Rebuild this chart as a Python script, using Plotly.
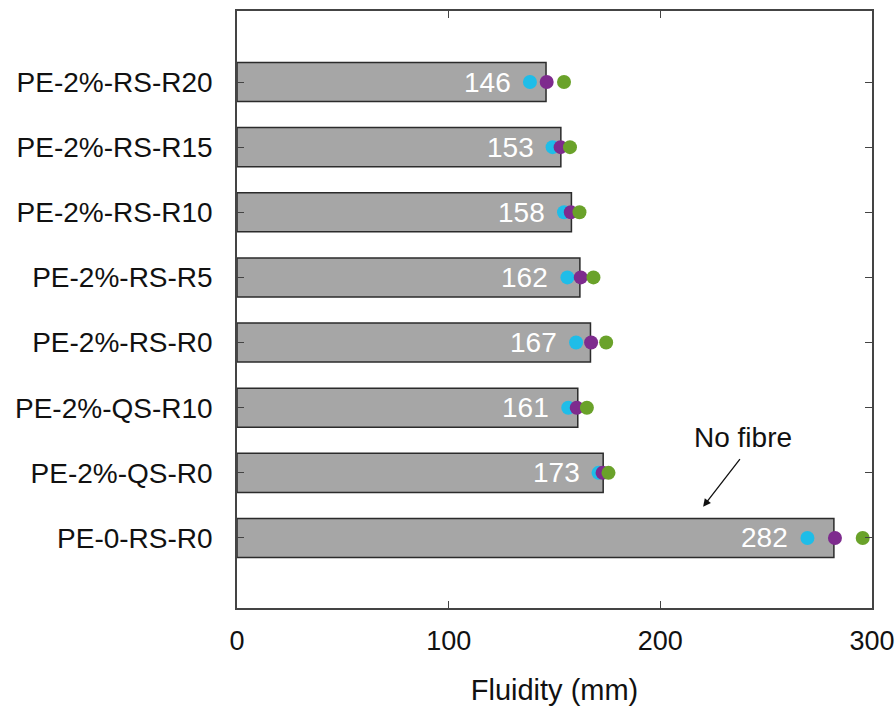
import plotly.graph_objects as go

# Mix designs, top to bottom
mixes = ["PE-2%-RS-R20", "PE-2%-RS-R15", "PE-2%-RS-R10", "PE-2%-RS-R5",
         "PE-2%-RS-R0", "PE-2%-QS-R10", "PE-2%-QS-R0", "PE-0-RS-R0"]
# Mean fluidity (mm)
fluidity_mean = [146, 153, 158, 162, 167, 161, 173, 282]
# Individual readings (mm)
reading_1 = [138.4, 149.1, 154.5, 156.1, 160.2, 156.5, 170.8, 269.5]
reading_2 = [146.3, 152.9, 157.7, 162.4, 167.3, 160.5, 172.7, 282.5]
reading_3 = [154.5, 157.3, 161.8, 168.4, 174.4, 165.3, 175.5, 295.6]

x_ticks = [0, 100, 200, 300]

FONT = "Liberation Sans, Arial, sans-serif"
idx = list(range(len(mixes)))

fig = go.Figure()
fig.add_trace(go.Bar(
    x=fluidity_mean, y=idx, orientation="h", width=0.6,
    marker=dict(color="#a6a6a6", line=dict(color="#2b2b2b", width=1.5)),
    showlegend=False, hoverinfo="x",
))
for vals, col in [(reading_1, "#1fbde8"), (reading_2, "#7e2b8e"), (reading_3, "#6aa22a")]:
    fig.add_trace(go.Scatter(
        x=vals, y=idx, mode="markers",
        marker=dict(color=col, size=14, line=dict(width=0)),
        showlegend=False,
    ))

# Mean values written inside the bars
for i, (m, r1) in enumerate(zip(fluidity_mean, reading_1)):
    fig.add_annotation(x=r1, y=i, text=str(m), showarrow=False,
                       xanchor="right", xshift=-17,
                       font=dict(family=FONT, size=28, color="white"))

# Reference-mix callout
fig.add_annotation(x=220.2, y=6.52, ax=38, ay=-49, text="",
                   showarrow=True, arrowhead=2, arrowsize=1.2, arrowwidth=1.3,
                   arrowcolor="#111111")
fig.add_annotation(x=239, y=5.45, text="No fibre", showarrow=False,
                   font=dict(family=FONT, size=28, color="#111111"))

fig.update_layout(
    width=895, height=713,
    margin=dict(l=237, r=23, t=11, b=105),
    paper_bgcolor="white", plot_bgcolor="white",
    font=dict(family=FONT, color="#111111"),
    xaxis=dict(
        range=[0, 300], tickvals=x_ticks, ticktext=[str(t) for t in x_ticks],
        ticks="inside", ticklen=7, tickcolor="#444", showline=True,
        linecolor="#444", linewidth=1.5, mirror="ticks", showgrid=False,
        zeroline=False, tickfont=dict(size=27), automargin=False,
        ticklabelstandoff=8,
        title=dict(text="Fluidity (mm)", font=dict(size=29), standoff=25),
    ),
    yaxis=dict(
        range=[8.075, -1.09], tickvals=idx, ticktext=mixes,
        ticks="inside", ticklen=7, tickcolor="#444", showline=True,
        linecolor="#444", linewidth=1.5, mirror="ticks", showgrid=False,
        zeroline=False, tickfont=dict(size=28), automargin=False,
        ticklabelstandoff=17,
    ),
)

fig.write_html("out.html")
